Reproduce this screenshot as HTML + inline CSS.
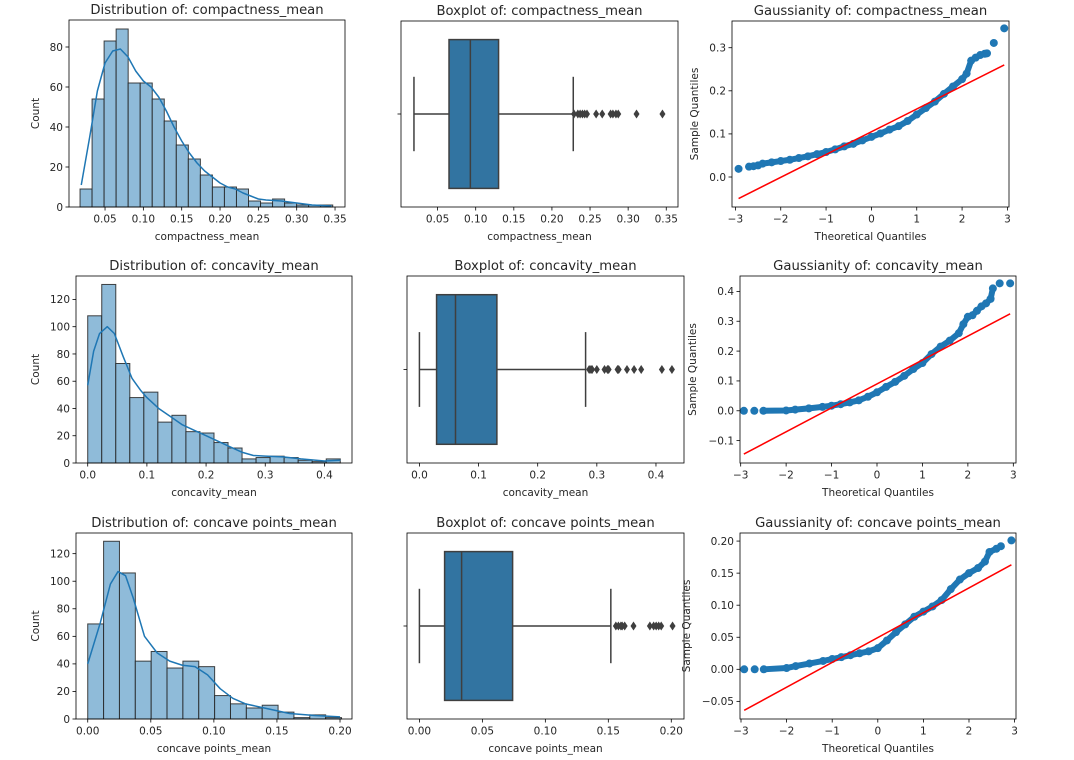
<!DOCTYPE html>
<html><head><meta charset="utf-8">
<style>
html,body{margin:0;padding:0;background:#fff;}
svg{display:block;font-family:"DejaVu Sans","Liberation Sans",sans-serif;}
</style></head>
<body>
<svg id="fig" width="1074" height="760" viewBox="0 0 1074 760" xmlns="http://www.w3.org/2000/svg"></svg>
<script>
// ---------- DATA ----------
const hist1Counts = [9,54,83,89,62,62,54,43,31,24,16,10,10,9,3,2,4,2,1,1,1];
const hist1Range = [0.0174,0.347];
const kde1X = [0.019,0.03,0.04,0.05,0.06,0.07,0.08,0.09,0.10,0.11,0.12,0.13,0.14,0.15,0.16,0.17,0.18,0.19,0.20,0.21,0.22,0.23,0.24,0.25,0.26,0.28,0.30,0.32,0.345];
const kde1Y = [11,35,58,72,78,79,75,68,63,60,55,48,40,33,27,22,18,15,12,10,9,7,5.5,4,3.5,3,2,1,0.5];
const hist2Counts = [108,131,73,48,52,30,35,23,22,15,11,3,4,5,4,2,1,3];
const hist2Range = [0,0.4268];
const kde2X = [0,0.01,0.02,0.033,0.045,0.06,0.075,0.09,0.1,0.12,0.14,0.16,0.18,0.2,0.22,0.24,0.26,0.28,0.3,0.33,0.36,0.4,0.427];
const kde2Y = [57,82,95,100,95,78,62,53,48,40,34,28,24,20,16,12,8,5.5,5,4.5,3,1.5,2];
const hist3Counts = [69,129,106,42,49,37,42,38,17,11,8,10,5,1,3,1];
const hist3Range = [0,0.2012];
const kde3X = [0,0.01,0.018,0.024,0.03,0.036,0.045,0.055,0.065,0.075,0.085,0.095,0.105,0.115,0.125,0.14,0.15,0.16,0.18,0.2];
const kde3Y = [40,70,98,107,104,88,60,48,42,39,38,32,22,15,11,8,6,4,2.5,1.5];

const box1Stats = [0.019,0.065,0.093,0.130,0.228];
const box1Outliers = [0.229,0.234,0.237,0.24,0.243,0.246,0.258,0.266,0.277,0.28,0.284,0.287,0.311,0.345];
const box2Stats = [0,0.029,0.061,0.131,0.281];
const box2Outliers = [0.287,0.29,0.292,0.3,0.313,0.318,0.32,0.335,0.337,0.351,0.363,0.375,0.41,0.427];
const box3Stats = [0,0.020,0.0335,0.074,0.152];
const box3Outliers = [0.156,0.158,0.16,0.161,0.163,0.17,0.183,0.186,0.188,0.19,0.192,0.201];

const qq1Theo = [-2.93,-2.7,-2.6,-2.5,-2.4,-2.2,-2.0,-1.8,-1.6,-1.4,-1.2,-1.0,-0.8,-0.6,-0.4,-0.2,0,0.2,0.4,0.6,0.8,1.0,1.2,1.4,1.6,1.8,2.0,2.1,2.2,2.3,2.4,2.5,2.55,2.7,2.93];
const qq1Sample = [0.019,0.024,0.025,0.027,0.031,0.034,0.037,0.040,0.044,0.048,0.053,0.058,0.064,0.071,0.077,0.085,0.093,0.101,0.110,0.118,0.130,0.145,0.160,0.175,0.193,0.210,0.227,0.24,0.27,0.277,0.283,0.286,0.287,0.311,0.345];
const qq1Line = [[-2.93,-0.05],[2.93,0.26]];
const qq2Theo = [-2.93,-2.7,-2.5,-2,-1.8,-1.5,-1.2,-1,-0.8,-0.6,-0.4,-0.2,0,0.2,0.4,0.6,0.8,1.0,1.2,1.4,1.6,1.8,1.9,2.0,2.1,2.2,2.3,2.4,2.5,2.55,2.7,2.93];
const qq2Sample = [0,0,0,0.001,0.004,0.008,0.013,0.017,0.022,0.028,0.035,0.047,0.062,0.08,0.097,0.117,0.14,0.16,0.19,0.215,0.235,0.26,0.29,0.315,0.32,0.335,0.35,0.36,0.375,0.41,0.427,0.427];
const qq2Line = [[-2.93,-0.145],[2.93,0.325]];
const qq3Theo = [-2.93,-2.7,-2.5,-2,-1.8,-1.5,-1.2,-1,-0.8,-0.6,-0.4,-0.2,0,0.2,0.4,0.6,0.8,1.0,1.2,1.4,1.6,1.8,2.0,2.2,2.35,2.45,2.6,2.7,2.93];
const qq3Sample = [0,0,0,0.002,0.005,0.009,0.013,0.016,0.019,0.022,0.025,0.028,0.033,0.045,0.058,0.07,0.082,0.09,0.098,0.108,0.125,0.14,0.15,0.158,0.168,0.183,0.188,0.192,0.201];
const qq3Line = [[-2.93,-0.064],[2.93,0.163]];

const hist1XTicks = ["0.05","0.10","0.15","0.20","0.25","0.30","0.35"];
const hist2XTicks = ["0.0","0.1","0.2","0.3","0.4"];
const hist3XTicks = ["0.00","0.05","0.10","0.15","0.20"];
const hist1YTicks = [0,20,40,60,80];
const hist2YTicks = [0,20,40,60,80,100,120];
const qq1YTicks = ["0.0","0.1","0.2","0.3"];
const qq2YTicks = ["−0.1","0.0","0.1","0.2","0.3","0.4"];
const qq3YTicks = ["−0.05","0.00","0.05","0.10","0.15","0.20"];
const qqXTicks = [-3,-2,-1,0,1,2,3];

// ---------- HELPERS ----------
const NS="http://www.w3.org/2000/svg";
const fig=document.getElementById('fig');
function mk(tag,attrs,parent){const e=document.createElementNS(NS,tag);for(const k in attrs)e.setAttribute(k,attrs[k]);(parent||fig).appendChild(e);return e;}
function txt(s,x,y,size,anchor,parent,rot){const t=mk('text',{x:x,y:y,'font-size':size,'text-anchor':anchor||'middle',fill:'#262626'},parent);if(rot)t.setAttribute('transform','rotate(-90 '+x+' '+y+')');t.textContent=s;return t;}
function num(s){return parseFloat(String(s).replace('−','-'));}

function makeAxes(name,box,dom){
  const g=mk('g',{});
  
  
  const sx=v=>box.l+(v-dom.x0)/(dom.x1-dom.x0)*(box.r-box.l);
  const sy=v=>box.b-(v-dom.y0)/(dom.y1-dom.y0)*(box.b-box.t);
  return {g,sx,sy,box};
}
function frame(ax,title,xlabel,ylabel,xt,yt,ylabelX,noYLabels){
  const {g,sx,sy,box}=ax;
  const f=mk('rect',{x:box.l,y:box.t,width:box.r-box.l,height:box.b-box.t,fill:'none',stroke:'#000','stroke-width':0.8},g);
  
  
  const xg=mk('g',{},g);
  
  
  xt.forEach(t=>{const x=sx(num(t));mk('line',{x1:x,x2:x,y1:box.b,y2:box.b+3.5,stroke:'#000','stroke-width':0.8},xg);txt(String(t).replace('-','−'),x,box.b+15.5,10.5,'middle',xg);});
  const yg=mk('g',{},g);
  
  
  yt.forEach(t=>{const y=sy(num(t));mk('line',{x1:box.l-3.5,x2:box.l,y1:y,y2:y,stroke:'#000','stroke-width':0.8},yg);if(!noYLabels)txt(String(t),box.l-6,y+3.8,10.5,'end',yg);});
  const tt=txt(title,(box.l+box.r)/2,box.t-6,13.2,'middle',g);
  
  
  const xl=txt(xlabel,(box.l+box.r)/2,box.b+33,10.5,'middle',g);
  
  
  if(ylabel){const yl=txt(ylabel,ylabelX,(box.t+box.b)/2,10.5,'middle',g,true);
    
    }
}
function hist(name,box,dom,counts,range,kx,ky,title,xlabel,xt,yt,ylx){
  const ax=makeAxes(name,box,dom);const {g,sx,sy}=ax;
  const w=(range[1]-range[0])/counts.length;
  counts.forEach((c,i)=>{const x0=sx(range[0]+i*w),x1=sx(range[0]+(i+1)*w);
    const r=mk('rect',{x:x0,y:sy(c),width:x1-x0,height:sy(0)-sy(c),fill:'#8fbbd9',stroke:'#222','stroke-width':1,'stroke-opacity':0.85},g);
    
    });
  const pts=kx.map((x,i)=>sx(x)+','+sy(ky[i])).join(' ');
  const k=mk('polyline',{points:pts,fill:'none',stroke:'#1f77b4','stroke-width':1.5,'stroke-linejoin':'round'},g);
  
  
  frame(ax,title,xlabel,'Count',xt,yt,ylx);
}
function boxp(name,box,dom,st,out,title,xlabel,xt){
  const ax=makeAxes(name,box,dom);const {g,sx,sy}=ax;
  const cy=(box.t+box.b)/2,h=(box.b-box.t)*0.4;
  const c='#3f3f3f';
  const w1=mk('line',{x1:sx(st[0]),x2:sx(st[1]),y1:cy,y2:cy,stroke:c,'stroke-width':1.5},g);
  
  
  const w2=mk('line',{x1:sx(st[3]),x2:sx(st[4]),y1:cy,y2:cy,stroke:c,'stroke-width':1.5},g);
  
  
  [st[0],st[4]].forEach(v=>{const cap=mk('line',{x1:sx(v),x2:sx(v),y1:cy-h/2,y2:cy+h/2,stroke:c,'stroke-width':1.5},g);
    
    });
  const r=mk('rect',{x:sx(st[1]),y:cy-h,width:sx(st[3])-sx(st[1]),height:2*h,fill:'#3274a1',stroke:c,'stroke-width':1.5},g);
  
  
  const m=mk('line',{x1:sx(st[2]),x2:sx(st[2]),y1:cy-h,y2:cy+h,stroke:c,'stroke-width':1.5},g);
  
  
  out.forEach(v=>{const x=sx(v);const d=mk('polygon',{points:(x-3)+','+cy+' '+x+','+(cy-4.5)+' '+(x+3)+','+cy+' '+x+','+(cy+4.5),fill:c},g);
    
    });
  ax.sy=()=>cy;
  frame(ax,title,xlabel,null,xt,[0],0,true);
}
function qq(name,box,dom,tx,sy_,line,title,yt,ylx){
  const ax=makeAxes(name,box,dom);const {g,sx,sy}=ax;
  const mid=tx.map((x,i)=>[x,sy_[i]]).slice(2,-2);
  const band=mk('polyline',{points:mid.map(p=>sx(p[0])+','+sy(p[1])).join(' '),fill:'none',stroke:'#1f77b4','stroke-width':6,'stroke-linejoin':'round','stroke-linecap':'round'},g);
  
  
  tx.forEach((x,i)=>{const p=mk('circle',{cx:sx(x),cy:sy(sy_[i]),r:4,fill:'#1f77b4'},g);
    
    });
  const l=mk('line',{x1:sx(line[0][0]),y1:sy(line[0][1]),x2:sx(line[1][0]),y2:sy(line[1][1]),stroke:'#ff0000','stroke-width':1.5},g);
  
  
  frame(ax,title,'Theoretical Quantiles','Sample Quantiles',qqXTicks,yt,ylx);
}

// ---------- ROW 1 ----------
hist('hist-compactness',{l:69,r:345,t:20,b:207},{x0:0.003,x1:0.363,y0:0,y1:93.5},hist1Counts,hist1Range,kde1X,kde1Y,'Distribution of: compactness_mean','compactness_mean',hist1XTicks,hist1YTicks,39);
boxp('box-compactness',{l:401,r:678,t:21,b:207},{x0:0.002,x1:0.3654,y0:0,y1:1},box1Stats,box1Outliers,'Boxplot of: compactness_mean','compactness_mean',hist1XTicks);
qq('qq-compactness',{l:732,r:1009,t:21,b:207},{x0:-3.075,x1:3.035,y0:-0.0696,y1:0.362},qq1Theo,qq1Sample,qq1Line,'Gaussianity of: compactness_mean',qq1YTicks,698);

// ---------- ROW 2 ----------
hist('hist-concavity',{l:76,r:352,t:276,b:463},{x0:-0.0198,x1:0.4466,y0:0,y1:137.2},hist2Counts,hist2Range,kde2X,kde2Y,'Distribution of: concavity_mean','concavity_mean',hist2XTicks,hist2YTicks,39);
boxp('box-concavity',{l:407,r:684,t:276,b:463},{x0:-0.021,x1:0.4474,y0:0,y1:1},box2Stats,box2Outliers,'Boxplot of: concavity_mean','concavity_mean',hist2XTicks);
qq('qq-concavity',{l:740,r:1016,t:276,b:463},{x0:-3.015,x1:3.059,y0:-0.175,y1:0.4516},qq2Theo,qq2Sample,qq2Line,'Gaussianity of: concavity_mean',qq2YTicks,696);

// ---------- ROW 3 ----------
hist('hist-concave-points',{l:76,r:352,t:533,b:719},{x0:-0.0093,x1:0.2095,y0:0,y1:135},hist3Counts,hist3Range,kde3X,kde3Y,'Distribution of: concave points_mean','concave points_mean',hist3XTicks,hist2YTicks,39);
boxp('box-concave-points',{l:407,r:684,t:533,b:719},{x0:-0.00986,x1:0.2101,y0:0,y1:1},box3Stats,box3Outliers,'Boxplot of: concave points_mean','concave points_mean',hist3XTicks);
qq('qq-concave-points',{l:740,r:1016,t:533,b:719},{x0:-3.022,x1:3.031,y0:-0.0775,y1:0.2126},qq3Theo,qq3Sample,qq3Line,'Gaussianity of: concave points_mean',qq3YTicks,690);
</script>
</body></html>
